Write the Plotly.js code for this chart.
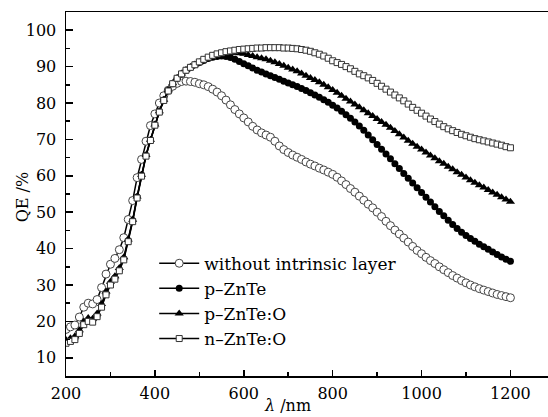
<!DOCTYPE html>
<html>
<head>
<meta charset="utf-8">
<script src="https://cdn.plot.ly/plotly-3.0.1.min.js"></script>
<style>html,body{margin:0;padding:0;background:#fff;}#chart{width:548px;height:417px;}</style>
</head>
<body>
<div id="chart"></div>
<script>
var wavelength = [200,210,220,230,240,250,260,270,280,290,300,310,320,330,340,350,360,370,380,390,400,410,420,430,440,450,460,470,480,490,500,510,520,530,540,550,560,570,580,590,600,610,620,630,640,650,660,670,680,690,700,710,720,730,740,750,760,770,780,790,800,810,820,830,840,850,860,870,880,890,900,910,920,930,940,950,960,970,980,990,1000,1010,1020,1030,1040,1050,1060,1070,1080,1090,1100,1110,1120,1130,1140,1150,1160,1170,1180,1190,1200];

var qeWithout = [17.8,18.5,19.0,21.2,23.9,25.0,24.8,26.0,29.3,33.0,35.7,37.3,39.7,43.0,48.0,53.2,
59.5,64.5,69.5,73.8,77.0,80.0,82.0,83.5,84.6,85.4,85.9,86.0,85.9,85.7,85.3,85.0,84.5,83.8,83.0,82.0,80.8,79.5,78.2,77.0,75.9,
74.8,73.6,72.6,71.8,71.2,70.6,69.5,68.2,67.2,66.4,65.7,65.1,64.5,63.8,63.2,62.7,62.1,61.6,61.0,60.4,
59.6,58.6,57.6,56.5,55.5,54.4,53.3,52.2,51.2,50.0,48.8,47.5,46.3,45.1,44.0,42.9,41.8,40.6,39.5,38.6,
37.6,36.7,35.9,35.0,34.2,33.4,32.6,31.9,31.2,30.6,30.0,29.5,29.0,28.6,28.2,27.8,27.4,27.1,26.8,26.5];

var qePZnTe = [14.3,14.8,15.3,17.0,19.4,20.3,20.1,21.6,24.2,27.6,30.3,31.9,34.2,37.2,42.2,47.7,54.2,60.2,65.6,69.8,74.0,77.6,80.8,83.4,85.3,86.8,88.0,89.0,89.8,90.5,
91.1,91.7,92.2,92.6,92.8,92.9,92.8,92.5,92.0,91.4,
90.8,90.2,89.6,89.0,88.5,88.0,87.5,87.0,86.5,86.0,
85.5,85.0,84.5,84.0,83.4,82.8,82.2,81.6,80.9,80.2,
79.4,78.6,77.7,76.8,75.8,74.8,73.7,72.5,71.2,69.9,
68.6,67.3,66.0,64.7,63.3,62.0,60.6,59.3,58.0,56.7,
55.4,54.1,52.8,51.5,50.2,49.0,47.8,46.6,45.5,44.5,
43.6,42.8,42.0,41.2,40.5,39.8,39.1,38.4,37.7,37.1,
36.5];

var qePZnTeO = [14.9,15.4,15.9,17.6,20.0,20.9,20.7,22.2,24.8,28.2,30.9,32.4,34.7,37.6,42.5,47.9,54.3,60.3,65.7,69.9,74.1,77.7,80.9,83.5,85.4,86.9,88.1,89.1,89.9,90.6,
91.2,91.8,92.3,92.8,93.2,93.5,93.7,93.8,93.8,93.7,
93.5,93.2,92.9,92.6,92.3,92.0,91.6,91.2,90.7,90.2,
89.7,89.2,88.7,88.1,87.5,86.9,86.3,85.7,85.0,84.3,
83.6,82.8,82.0,81.2,80.4,79.6,78.8,78.0,77.2,76.4,
75.6,74.8,74.0,73.2,72.3,71.4,70.5,69.6,68.8,68.0,
67.2,66.4,65.6,64.8,64.0,63.3,62.5,61.8,61.0,60.3,
59.5,58.8,58.1,57.4,56.8,56.1,55.4,54.8,54.1,53.5,
52.9];

var qeNZnTeO = [14.0,14.5,15.0,16.7,19.1,20.0,19.8,21.3,23.9,27.3,30.0,31.6,33.9,36.9,41.9,47.4,53.9,59.9,65.4,69.7,73.9,77.5,80.7,83.3,85.3,86.8,88.0,89.0,89.8,90.5,
91.3,92.0,92.6,93.1,93.5,93.8,94.1,94.3,94.5,94.7,
94.8,94.9,95.0,95.1,95.1,95.2,95.2,95.2,95.2,95.1,
95.1,95.0,94.9,94.7,94.5,94.2,93.8,93.4,92.9,92.3,
91.6,91.1,90.6,90.0,89.4,88.7,88.0,87.5,86.9,86.2,
85.4,84.6,83.8,83.0,82.2,81.4,80.6,79.7,78.8,78.0,
77.2,76.4,75.6,74.9,74.2,73.5,72.9,72.4,71.9,71.4,
71.0,70.6,70.2,69.9,69.6,69.3,69.0,68.7,68.4,68.0,
67.7];

var seriesNames = ['without intrinsic layer', 'p\u2013ZnTe', 'p\u2013ZnTe:O', 'n\u2013ZnTe:O'];
var xTicks = [200,400,600,800,1000,1200];
var yTicks = [10,20,30,40,50,60,70,80,90,100];

var FONT = "'DejaVu Serif', serif";

var traces = [
  {x: wavelength, y: qeWithout, name: seriesNames[0], mode: 'lines+markers',
   line: {color: '#000', width: 1.5},
   marker: {symbol: 'circle', size: 8, color: '#fff', line: {color: '#444', width: 1}}},
  {x: wavelength, y: qePZnTe, name: seriesNames[1], mode: 'lines+markers',
   line: {color: '#000', width: 1.5},
   marker: {symbol: 'circle', size: 7, color: '#000', line: {color: '#000', width: 0}}},
  {x: wavelength, y: qePZnTeO, name: seriesNames[2], mode: 'lines+markers',
   line: {color: '#000', width: 1.5},
   marker: {symbol: 'triangle-up', size: 8, color: '#000', line: {color: '#000', width: 0}}},
  {x: wavelength, y: qeNZnTeO, name: seriesNames[3], mode: 'lines+markers',
   line: {color: '#000', width: 1.5},
   marker: {symbol: 'square', size: 6, color: '#fff', line: {color: '#333', width: 1}}}
];

var layout = {
  width: 548, height: 417,
  margin: {l: 66, r: 0, t: 12, b: 41, pad: 0},
  paper_bgcolor: '#fff', plot_bgcolor: '#fff',
  font: {family: FONT, size: 16, color: '#000'},
  showlegend: true,
  legend: {x: 0.183, y: 0.358, xanchor: 'left', yanchor: 'top',
           bgcolor: 'rgba(255,255,255,0)', borderwidth: 0,
           font: {family: FONT, size: 17, color: '#000'},
           itemwidth: 40, tracegroupgap: 0},
  xaxis: {range: [200, 1284.5], tickvals: xTicks, ticktext: xTicks.map(String),
          ticks: 'inside', ticklen: 6, tickwidth: 1.5, tickcolor: '#000',
          showline: true, linecolor: '#000', linewidth: 1.5, mirror: true,
          showgrid: false, zeroline: false,
          minor: {tickvals: [300,500,700,900,1100], ticks: 'inside', ticklen: 4, tickwidth: 1.5, tickcolor: '#000', showgrid: false},
          tickfont: {family: FONT, size: 16, color: '#000'}, ticklabelstandoff: 2},
  yaxis: {range: [5, 105], tickvals: yTicks, ticktext: yTicks.map(String),
          ticks: 'inside', ticklen: 7, tickwidth: 1.5, tickcolor: '#000',
          showline: true, linecolor: '#000', linewidth: 1.5, mirror: false,
          showgrid: false, zeroline: false,
          minor: {tickvals: [15,25,35,45,55,65,75,85,95], ticks: 'inside', ticklen: 4, tickwidth: 1.5, tickcolor: '#000', showgrid: false},
          tickfont: {family: FONT, size: 16, color: '#000'}, ticklabelstandoff: 5},
  annotations: [
    {xref: 'paper', yref: 'paper', x: 0.459, y: -0.082, xanchor: 'center', yanchor: 'middle',
     text: '<i>\u03bb</i> /nm', showarrow: false, font: {family: FONT, size: 16, color: '#000'}},
    {xref: 'paper', yref: 'paper', x: -0.09, y: 0.49, xanchor: 'center', yanchor: 'middle',
     text: 'QE /%', textangle: -90, showarrow: false, font: {family: FONT, size: 16, color: '#000'}}
  ]
};

Plotly.newPlot('chart', traces, layout, {displayModeBar: false, staticPlot: true});
</script>
</body>
</html>
